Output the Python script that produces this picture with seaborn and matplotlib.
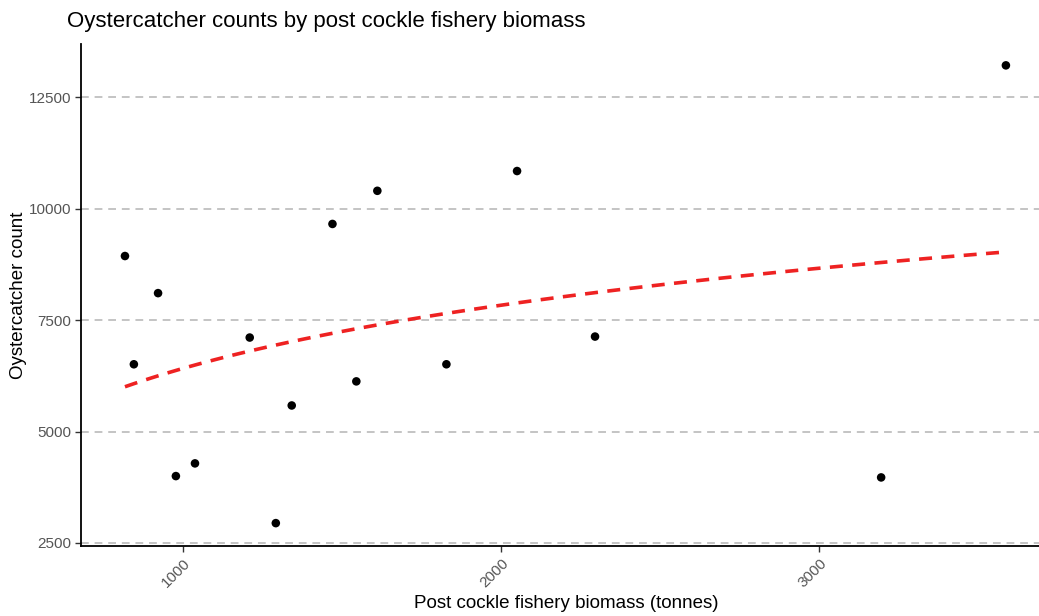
import matplotlib
matplotlib.use("Agg")
import matplotlib.pyplot as plt
import seaborn as sns
import pandas as pd

biomass = [818, 846, 922, 978, 1038, 1210, 1292, 1342, 1470, 1545, 1611, 1828, 2050, 2295, 3194, 3586]
counts = [8940, 6510, 8107, 4000, 4285, 7110, 2944, 5585, 9660, 6126, 10404, 6510, 10848, 7132, 3970, 13220]
x_ticks = [1000, 2000, 3000]
y_ticks = [2500, 5000, 7500, 10000, 12500]

df = pd.DataFrame({"biomass": biomass, "count": counts})

sns.set_theme(style="white")
plt.rcParams["font.family"] = ["Liberation Sans", "DejaVu Sans"]

fig = plt.figure(figsize=(10.39, 6.16), dpi=100)
ax = fig.add_axes([0.078, 0.1136, 0.922, 0.815])

for yt in y_ticks:
    ax.axhline(yt, color="#c4c4c4", lw=1.4, ls=(0, (4, 3)), zorder=0)

sns.regplot(data=df, x="biomass", y="count", logx=True, ci=None, ax=ax,
            scatter=False, truncate=True,
            line_kws=dict(color="#ee2222", lw=2.6, ls=(0, (3.6, 2.6)), zorder=2))
sns.scatterplot(data=df, x="biomass", y="count", ax=ax, color="black", s=38,
                edgecolor="none", zorder=3)

ax.set_xlim(680, 3690)
ax.set_ylim(2430, 13700)
ax.set_xticks(x_ticks)
ax.set_yticks(y_ticks)
ax.set_xticklabels([str(v) for v in x_ticks], rotation=45, ha="right",
                   rotation_mode="anchor", color="#555555", fontsize=11)
ax.set_yticklabels([str(v) for v in y_ticks], color="#555555", fontsize=11)
ax.tick_params(axis="both", which="major", length=4, width=1, color="#333333",
               bottom=True, left=True, pad=3)
ax.set_xlabel("Post cockle fishery biomass (tonnes)", fontsize=13.5, color="black")
ax.xaxis.set_label_coords(0.507, -0.098)
ax.set_ylabel("Oystercatcher count", fontsize=13.5, color="black", labelpad=1)

for side in ["top", "right"]:
    ax.spines[side].set_visible(False)
for side in ["left", "bottom"]:
    ax.spines[side].set_color("black")
    ax.spines[side].set_linewidth(1.3)

fig.text(67 / 1039, 1 - 21 / 616, "Oystercatcher counts by post cockle fishery biomass",
         fontsize=16, color="black", ha="left", va="center")

fig.savefig("out.png", dpi=100, facecolor="white")
